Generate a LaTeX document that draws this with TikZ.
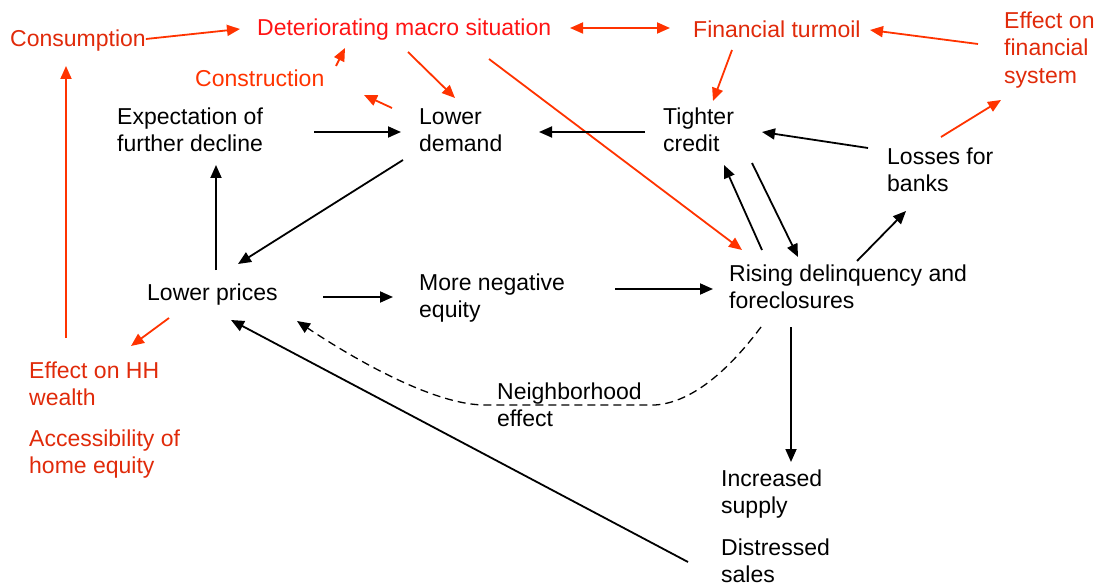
\documentclass[tikz,border=0pt]{standalone}
\usepackage{fontspec}
\setmainfont{Liberation Sans}
\usetikzlibrary{arrows.meta}
\definecolor{dkred}{RGB}{224,42,10}
\definecolor{macrored}{RGB}{255,20,20}
\definecolor{arrowred}{RGB}{255,51,0}
\newcommand{\fs}{\fontsize{23}{27.5}\selectfont}
\tikzset{
  txt/.style={anchor=west, align=left, inner sep=0pt, font=\fs},
  link/.style={line width=1.8pt, ->},
  redlink/.style={link, arrowred},
  >={Triangle[length=13pt,width=11pt]}
}
\begin{document}
\begin{tikzpicture}[x=1pt,y=-1pt]
	\useasboundingbox (0,0) rectangle (1103,588);
	\node[txt, text=dkred] (cons) at (10,41) {Consumption};
	\node[txt, text=macrored] (macro) at (257,30) {Deteriorating macro situation};
	\node[txt, text=dkred] (turm) at (693,29) {Financial turmoil};
	\node[txt, text=dkred] (finsys) at (1004,50) {Effect on\\financial\\system};
	\node[txt, text=arrowred] (constr) at (195,78) {Construction};
	\node[txt] (expect) at (117,130) {Expectation of\\further decline};
	\node[txt] (demand) at (419,130) {Lower\\demand};
	\node[txt] (credit) at (663,130) {Tighter\\credit};
	\node[txt] (losses) at (887,170) {Losses for\\banks};
	\node[txt] (prices) at (147,295) {Lower prices};
	\node[txt] (negeq) at (419,298) {More negative\\equity};
	\node[txt] (rising) at (729,287) {Rising delinquency and\\foreclosures};
	\node[txt, text=dkred] (hhw) at (29,384) {Effect on HH\\wealth};
	\node[txt, text=dkred] (access) at (29,454) {Accessibility of\\home equity};
	\node[txt] (neigh) at (497,405) {Neighborhood\\effect};
	\node[txt] (supply) at (721,494) {Increased\\supply};
	\node[txt] (distr) at (721,561) {Distressed\\sales};

	\draw[redlink] ([shift={(0,-2)}]cons.east) -- ([shift={(-17,-1)}]macro.west);
	\draw[redlink, <->] ([shift={(313,-2)}]macro.west) -- ([shift={(-23,-1)}]turm.west);
	\draw[redlink] ([shift={(-26,-6)}]finsys.west) -- ([shift={(177,1)}]turm.west);
	\draw[redlink] ([shift={(39,21)}]turm.west) -- ([shift={(50,-29)}]credit.west);
	\draw[redlink] ([shift={(54,-33)}]losses.west) -- ([shift={(-3,50)}]finsys.west);
	\draw[redlink] ([shift={(141,-12)}]constr.west) -- ([shift={(88,18)}]macro.west);
	\draw[redlink] ([shift={(151,22)}]macro.west) -- ([shift={(36,-32)}]demand.west);
	\draw[redlink] ([shift={(-27,-22)}]demand.west) -- ([shift={(169,17)}]constr.west);
	\draw[redlink] ([shift={(232,29)}]macro.west) -- ([shift={(13,-37)}]rising.west);
	\draw[redlink] ([shift={(37,-46)}]hhw.west) -- ([shift={(56,25)}]cons.west);
	\draw[redlink] ([shift={(22,23)}]prices.west) -- ([shift={(102,-38)}]hhw.west);

	\draw[link] ([shift={(197,2)}]expect.west) -- ([shift={(-18,2)}]demand.west);
	\draw[link] ([shift={(-18,2)}]credit.west) -- ([shift={(120,2)}]demand.west);
	\draw[link] ([shift={(-19,-22)}]losses.west) -- ([shift={(99,2)}]credit.west);
	\draw[link] ([shift={(-16,30)}]demand.west) -- ([shift={(91,-31)}]prices.west);
	\draw[link] ([shift={(69,-25)}]prices.west) -- ([shift={(99,35)}]expect.west);
	\draw[link] ([shift={(176,2)}]prices.west) -- ([shift={(-26,-1)}]negeq.west);
	\draw[link] ([shift={(196,-9)}]negeq.west) -- ([shift={(-16,2)}]rising.west);
	\draw[link] ([shift={(33,-37)}]rising.west) -- ([shift={(61,35)}]credit.west);
	\draw[link] ([shift={(89,33)}]credit.west) -- ([shift={(69,-30)}]rising.west);
	\draw[link] ([shift={(128,-26)}]rising.west) -- ([shift={(19,41)}]losses.west);
	\draw[link] ([shift={(62,40)}]rising.west) -- ([shift={(70,-32)}]supply.west);
	\draw[link] ([shift={(-33,1)}]distr.west) -- ([shift={(84,25)}]prices.west);
	\draw[link, line width=1.3pt, dash pattern=on 8pt off 5pt]
		([shift={(32,40)}]rising.west) .. controls +(-21,28) and +(45,-3) .. ([shift={(158,0)}]neigh.west)
		-- ([shift={(-12,0)}]neigh.west) .. controls +(-50,0) and +(60,40) .. ([shift={(150,26)}]prices.west);
\end{tikzpicture}
\end{document}
